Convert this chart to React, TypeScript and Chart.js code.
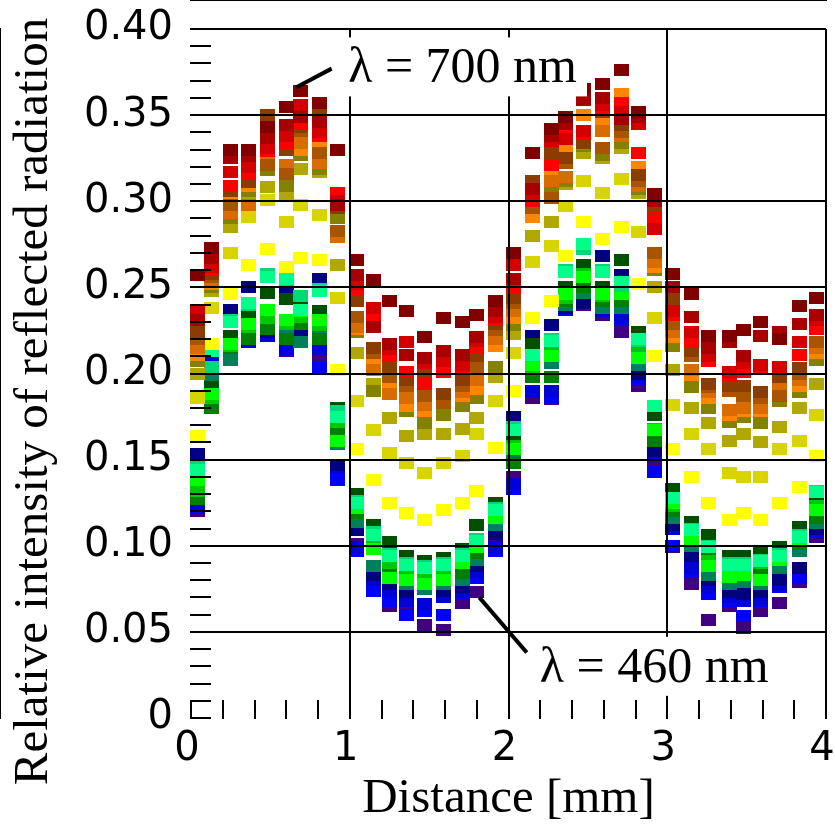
import React, { useEffect, useRef } from 'react';
import { Chart, registerables } from 'chart.js';

Chart.register(...registerables);

// Distance of each measurement column [mm]
const DISTANCE_MM = [0.04, 0.13, 0.25, 0.36, 0.48, 0.60, 0.69, 0.81, 0.92, 1.04, 1.15, 1.25, 1.36, 1.47, 1.59, 1.71, 1.80, 1.92, 2.03, 2.15, 2.27, 2.36, 2.47, 2.59, 2.71, 2.82, 2.92, 3.03, 3.15, 3.26, 3.39, 3.48, 3.59, 3.71, 3.83, 3.94];

const X_TICK_LABELS = ['0', '1', '2', '3', '4'];
const Y_TICK_LABELS = ['0', '0.05', '0.10', '0.15', '0.20', '0.25', '0.30', '0.35', '0.40'];
const X_MINOR_STEP = 0.2;
const Y_MINOR_STEP = 0.01;

// Relative intensity per wavelength (one value per column)
const I700 = [0.257, 0.273, 0.330, 0.330, 0.343, 0.355, 0.364, 0.357, 0.330, 0.266, 0.254, 0.242, 0.236, 0.221, 0.232, 0.230, 0.234, 0.242, 0.270, 0.328, 0.342, 0.349, 0.365, 0.368, 0.376, 0.352, 0.304, 0.258, 0.246, 0.222, 0.222, 0.225, 0.230, 0.220, 0.239, 0.244];
const I690 = [0.231, 0.267, 0.325, 0.326, 0.337, 0.344, 0.349, 0.346, 0.298, 0.257, 0.227, 0.217, 0.211, 0.209, 0.213, 0.211, 0.221, 0.236, 0.255, 0.307, 0.338, 0.345, 0.359, 0.360, 0.348, 0.349, 0.300, 0.250, 0.233, 0.215, 0.218, 0.210, 0.222, 0.224, 0.229, 0.234];
const I680 = [0.237, 0.262, 0.317, 0.320, 0.331, 0.338, 0.356, 0.340, 0.300, 0.252, 0.238, 0.214, 0.218, 0.206, 0.207, 0.205, 0.219, 0.233, 0.263, 0.304, 0.335, 0.336, 0.341, 0.356, 0.352, 0.345, 0.284, 0.236, 0.224, 0.210, 0.201, 0.206, 0.205, 0.204, 0.218, 0.231];
const I670 = [0.235, 0.260, 0.309, 0.316, 0.329, 0.334, 0.345, 0.338, 0.305, 0.249, 0.234, 0.210, 0.201, 0.194, 0.201, 0.202, 0.215, 0.231, 0.250, 0.300, 0.321, 0.342, 0.339, 0.355, 0.357, 0.328, 0.291, 0.234, 0.218, 0.207, 0.199, 0.201, 0.203, 0.202, 0.211, 0.226];
const I660 = [0.224, 0.258, 0.306, 0.311, 0.350, 0.330, 0.343, 0.353, 0.296, 0.242, 0.215, 0.204, 0.196, 0.201, 0.188, 0.196, 0.210, 0.229, 0.244, 0.312, 0.328, 0.325, 0.334, 0.352, 0.344, 0.315, 0.295, 0.243, 0.213, 0.194, 0.193, 0.193, 0.189, 0.198, 0.203, 0.228];
const I650 = [0.220, 0.256, 0.298, 0.314, 0.321, 0.316, 0.341, 0.328, 0.283, 0.233, 0.212, 0.198, 0.193, 0.187, 0.183, 0.193, 0.203, 0.225, 0.241, 0.296, 0.302, 0.322, 0.336, 0.331, 0.340, 0.312, 0.270, 0.229, 0.210, 0.192, 0.190, 0.187, 0.186, 0.187, 0.200, 0.218];
const I640 = [0.215, 0.254, 0.293, 0.298, 0.326, 0.321, 0.334, 0.322, 0.279, 0.227, 0.202, 0.188, 0.186, 0.182, 0.186, 0.189, 0.196, 0.220, 0.236, 0.301, 0.312, 0.314, 0.333, 0.341, 0.338, 0.309, 0.265, 0.224, 0.202, 0.189, 0.179, 0.180, 0.180, 0.193, 0.196, 0.215];
const I630 = [0.211, 0.252, 0.304, 0.309, 0.324, 0.318, 0.330, 0.334, 0.281, 0.226, 0.205, 0.191, 0.181, 0.178, 0.185, 0.187, 0.191, 0.216, 0.232, 0.291, 0.316, 0.329, 0.350, 0.347, 0.362, 0.320, 0.262, 0.221, 0.199, 0.186, 0.176, 0.178, 0.178, 0.190, 0.193, 0.212];
const I620 = [0.207, 0.250, 0.290, 0.306, 0.318, 0.309, 0.327, 0.319, 0.290, 0.224, 0.190, 0.193, 0.178, 0.171, 0.176, 0.181, 0.186, 0.204, 0.228, 0.298, 0.308, 0.312, 0.332, 0.327, 0.334, 0.307, 0.260, 0.216, 0.192, 0.180, 0.172, 0.175, 0.171, 0.184, 0.189, 0.208];
const I610 = [0.200, 0.248, 0.285, 0.304, 0.308, 0.303, 0.319, 0.317, 0.263, 0.212, 0.194, 0.174, 0.164, 0.165, 0.165, 0.168, 0.174, 0.198, 0.223, 0.280, 0.288, 0.310, 0.328, 0.325, 0.331, 0.305, 0.250, 0.202, 0.180, 0.171, 0.161, 0.165, 0.160, 0.169, 0.180, 0.194];
const I600 = [0.186, 0.238, 0.270, 0.291, 0.301, 0.288, 0.298, 0.292, 0.244, 0.184, 0.167, 0.154, 0.148, 0.142, 0.148, 0.152, 0.165, 0.184, 0.212, 0.265, 0.274, 0.297, 0.312, 0.305, 0.313, 0.282, 0.232, 0.182, 0.165, 0.156, 0.142, 0.140, 0.140, 0.156, 0.161, 0.176];
const I590 = [0.164, 0.217, 0.246, 0.263, 0.272, 0.262, 0.267, 0.266, 0.202, 0.156, 0.138, 0.125, 0.119, 0.115, 0.121, 0.125, 0.132, 0.157, 0.190, 0.232, 0.242, 0.268, 0.288, 0.278, 0.285, 0.252, 0.210, 0.156, 0.140, 0.125, 0.115, 0.119, 0.115, 0.125, 0.134, 0.152];
const I580 = [0.144, 0.213, 0.230, 0.241, 0.256, 0.255, 0.237, 0.248, 0.175, 0.125, 0.106, 0.094, 0.089, 0.087, 0.089, 0.094, 0.103, 0.121, 0.167, 0.211, 0.219, 0.259, 0.275, 0.259, 0.253, 0.220, 0.181, 0.128, 0.109, 0.099, 0.089, 0.089, 0.091, 0.094, 0.105, 0.131];
const I570 = [0.146, 0.204, 0.231, 0.240, 0.258, 0.253, 0.245, 0.249, 0.178, 0.126, 0.108, 0.095, 0.090, 0.088, 0.090, 0.095, 0.104, 0.122, 0.169, 0.210, 0.220, 0.260, 0.272, 0.260, 0.251, 0.219, 0.181, 0.128, 0.110, 0.100, 0.090, 0.090, 0.092, 0.095, 0.106, 0.132];
const I560 = [0.138, 0.188, 0.217, 0.229, 0.237, 0.231, 0.236, 0.231, 0.161, 0.122, 0.098, 0.081, 0.080, 0.078, 0.080, 0.090, 0.099, 0.116, 0.156, 0.205, 0.210, 0.246, 0.256, 0.246, 0.246, 0.209, 0.167, 0.125, 0.104, 0.088, 0.082, 0.083, 0.080, 0.092, 0.104, 0.121];
const I550 = [0.132, 0.186, 0.216, 0.227, 0.232, 0.229, 0.233, 0.228, 0.172, 0.123, 0.100, 0.090, 0.086, 0.085, 0.086, 0.092, 0.100, 0.119, 0.158, 0.203, 0.212, 0.244, 0.258, 0.245, 0.248, 0.212, 0.168, 0.123, 0.106, 0.091, 0.088, 0.086, 0.090, 0.094, 0.106, 0.123];
const I540 = [0.127, 0.180, 0.215, 0.220, 0.226, 0.220, 0.229, 0.220, 0.166, 0.119, 0.101, 0.089, 0.084, 0.082, 0.088, 0.084, 0.096, 0.118, 0.148, 0.198, 0.198, 0.242, 0.250, 0.242, 0.242, 0.214, 0.161, 0.120, 0.107, 0.093, 0.085, 0.088, 0.084, 0.092, 0.101, 0.116];
const I530 = [0.134, 0.192, 0.222, 0.233, 0.247, 0.243, 0.239, 0.236, 0.180, 0.130, 0.112, 0.102, 0.094, 0.091, 0.093, 0.098, 0.112, 0.125, 0.162, 0.217, 0.217, 0.250, 0.263, 0.250, 0.266, 0.224, 0.176, 0.133, 0.114, 0.106, 0.094, 0.094, 0.096, 0.099, 0.111, 0.127];
const I520 = [0.140, 0.196, 0.208, 0.224, 0.230, 0.226, 0.218, 0.225, 0.159, 0.114, 0.088, 0.086, 0.078, 0.075, 0.078, 0.080, 0.092, 0.112, 0.150, 0.201, 0.206, 0.240, 0.247, 0.238, 0.238, 0.205, 0.163, 0.116, 0.100, 0.083, 0.078, 0.079, 0.078, 0.087, 0.097, 0.113];
const I510 = [0.153, 0.200, 0.237, 0.250, 0.224, 0.250, 0.223, 0.255, 0.147, 0.109, 0.083, 0.078, 0.073, 0.087, 0.074, 0.076, 0.088, 0.107, 0.175, 0.222, 0.228, 0.238, 0.241, 0.268, 0.257, 0.200, 0.155, 0.112, 0.094, 0.080, 0.073, 0.072, 0.073, 0.080, 0.087, 0.110];
const I490 = [0.123, 0.206, 0.212, 0.218, 0.222, 0.214, 0.220, 0.214, 0.146, 0.099, 0.080, 0.074, 0.068, 0.066, 0.070, 0.073, 0.085, 0.099, 0.136, 0.190, 0.190, 0.238, 0.243, 0.236, 0.233, 0.199, 0.152, 0.110, 0.087, 0.076, 0.070, 0.068, 0.069, 0.077, 0.087, 0.110];
const I480 = [0.122, 0.202, 0.210, 0.218, 0.222, 0.214, 0.223, 0.204, 0.139, 0.097, 0.074, 0.068, 0.060, 0.062, 0.060, 0.072, 0.081, 0.097, 0.133, 0.189, 0.186, 0.237, 0.242, 0.236, 0.231, 0.197, 0.143, 0.100, 0.085, 0.072, 0.068, 0.059, 0.068, 0.076, 0.081, 0.108];
const I460 = [0.120, 0.199, 0.208, 0.219, 0.222, 0.213, 0.218, 0.209, 0.138, 0.101, 0.084, 0.065, 0.064, 0.054, 0.051, 0.067, 0.073, 0.100, 0.140, 0.186, 0.185, 0.237, 0.240, 0.234, 0.224, 0.193, 0.148, 0.099, 0.078, 0.057, 0.065, 0.052, 0.062, 0.067, 0.079, 0.105];

const SERIES = [
  { label: '700 nm', color: '#800000', values: I700 },
  { label: '690 nm', color: '#a80000', values: I690 },
  { label: '680 nm', color: '#d40000', values: I680 },
  { label: '670 nm', color: '#ff0000', values: I670 },
  { label: '660 nm', color: '#8b3c00', values: I660 },
  { label: '650 nm', color: '#a85400', values: I650 },
  { label: '640 nm', color: '#d86c00', values: I640 },
  { label: '630 nm', color: '#ff8400', values: I630 },
  { label: '620 nm', color: '#848000', values: I620 },
  { label: '610 nm', color: '#b0a800', values: I610 },
  { label: '600 nm', color: '#d8d400', values: I600 },
  { label: '590 nm', color: '#ffff00', values: I590 },
  { label: '580 nm', color: '#00ff88', values: I580 },
  { label: '570 nm', color: '#00d878', values: I570 },
  { label: '560 nm', color: '#00ff00', values: I560 },
  { label: '550 nm', color: '#00c800', values: I550 },
  { label: '540 nm', color: '#008000', values: I540 },
  { label: '530 nm', color: '#005000', values: I530 },
  { label: '520 nm', color: '#00805a', values: I520 },
  { label: '510 nm', color: '#000080', values: I510 },
  { label: '490 nm', color: '#0000d8', values: I490 },
  { label: '480 nm', color: '#0000ff', values: I480 },
  { label: '460 nm', color: '#400080', values: I460 },
];

const X_TITLE = 'Distance [mm]';
const Y_TITLE = 'Relative intensity of reflected radiation';

// Call-out labels (anchored in data coordinates)
const CALLOUTS = [
  { text: 'λ = 700 nm', x: 0.99, y: 0.369, fromX: 0.661, fromY: 0.366, toX: 0.886, toY: 0.377 },
  { text: 'λ = 460 nm', x: 2.197, y: 0.021, fromX: 1.816, fromY: 0.070, toX: 2.115, toY: 0.038 },
];

const round = (v: number, d: number) => Math.round(v * Math.pow(10, d)) / Math.pow(10, d);
const X_TICKS: number[] = [];
for (let i = 0; i <= Math.round(4 / X_MINOR_STEP); i++) X_TICKS.push(round(i * X_MINOR_STEP, 2));
const Y_TICKS: number[] = [];
for (let i = 0; i <= Math.round(0.4 / Y_MINOR_STEP); i++) Y_TICKS.push(round(i * Y_MINOR_STEP, 2));

const findLabel = (labels: string[], v: number) => {
  const hit = labels.find((l) => Math.abs(Number(l) - v) < 1e-6);
  return hit === undefined ? '' : hit;
};

function makeMarker(color: string) {
  const c = document.createElement('canvas');
  c.width = 15;
  c.height = 12;
  const g = c.getContext('2d');
  if (g) {
    g.fillStyle = color;
    g.fillRect(0, 0, 15, 12);
  }
  return c;
}

const calloutPlugin = {
  id: 'callouts',
  afterDraw(chart: any) {
    const { ctx, chartArea, scales } = chart;
    const xs = scales.x;
    const ys = scales.y;
    ctx.save();
    // y-axis title
    ctx.fillStyle = '#000';
    ctx.font = '49px "Liberation Serif"';
    ctx.textAlign = 'center';
    ctx.textBaseline = 'middle';
    ctx.translate(chartArea.left - 157, (chartArea.top + chartArea.bottom) / 2 + 28);
    ctx.rotate(-Math.PI / 2);
    ctx.fillText(Y_TITLE, 0, 0);
    ctx.restore();

    ctx.save();
    ctx.font = '50px "Liberation Serif"';
    for (const c of CALLOUTS) {
      const tx = xs.getPixelForValue(c.x);
      const ty = ys.getPixelForValue(c.y);
      const w = ctx.measureText(c.text).width;
      ctx.fillStyle = '#fff';
      ctx.fillRect(tx - 10, ty - 45, w + 20, 59);
      ctx.strokeStyle = '#000';
      ctx.lineWidth = 4;
      ctx.beginPath();
      ctx.moveTo(xs.getPixelForValue(c.fromX), ys.getPixelForValue(c.fromY));
      ctx.lineTo(xs.getPixelForValue(c.toX), ys.getPixelForValue(c.toY));
      ctx.stroke();
      ctx.fillStyle = '#000';
      ctx.textAlign = 'left';
      ctx.textBaseline = 'alphabetic';
      ctx.fillText(c.text, tx, ty);
    }
    ctx.restore();
  },
};

export default function App() {
  const ref = useRef<HTMLCanvasElement | null>(null);

  useEffect(() => {
    const canvas = ref.current;
    if (!canvas) return;
    const datasets = SERIES.map((s) => ({
      label: s.label,
      data: DISTANCE_MM.map((x, i) => ({ x, y: s.values[i] })),
      pointStyle: makeMarker(s.color),
      pointRadius: 8,
      backgroundColor: s.color,
      borderColor: s.color,
      showLine: false,
      clip: false as any,
    }));

    const chart = new Chart(canvas, {
      type: 'scatter',
      data: { datasets },
      plugins: [calloutPlugin],
      options: {
        animation: false,
        responsive: false,
        events: [],
        layout: { padding: { top: 29, right: 3, bottom: 0, left: 0 } },
        plugins: { legend: { display: false }, tooltip: { enabled: false } },
        scales: {
          x: {
            type: 'linear',
            position: 'bottom',
            min: 0,
            max: 4,
            afterBuildTicks: (s: any) => {
              s.ticks = X_TICKS.map((v) => ({ value: v }));
            },
            afterFit: (s: any) => {
              s.height = 106;
              s.paddingLeft = 0;
              s.paddingRight = 0;
            },
            border: { display: true, color: '#000', width: 2, z: 0 },
            grid: {
              z: 1,
              color: (c: any) => {
                const v = c.tick ? c.tick.value : 0;
                return v > 1e-6 && Math.abs(v - Math.round(v)) < 1e-6 ? '#000' : 'rgba(0,0,0,0)';
              },
              lineWidth: 2,
              drawTicks: true,
              tickLength: -18,
              tickColor: '#000',
              tickWidth: 2,
            },
            ticks: {
              autoSkip: false,
              maxRotation: 0,
              minRotation: 0,
              padding: 26,
              labelOffset: -4,
              color: '#000',
              font: { family: 'DejaVu Sans', size: 40 },
              callback: (v: any) => findLabel(X_TICK_LABELS, Number(v)),
            },
            title: {
              display: true,
              text: X_TITLE,
              color: '#000',
              font: { family: 'Liberation Serif', size: 49, lineHeight: 1 },
              padding: { top: 0, bottom: 0 },
            },
          },
          y: {
            type: 'linear',
            position: 'left',
            min: 0,
            max: 0.4,
            afterBuildTicks: (s: any) => {
              s.ticks = Y_TICKS.map((v) => ({ value: v }));
            },
            afterFit: (s: any) => {
              s.width = 191;
              s.paddingTop = 0;
              s.paddingBottom = 0;
            },
            border: { display: true, color: '#000', width: 2, z: 0 },
            grid: {
              z: 1,
              color: (c: any) => {
                const v = c.tick ? c.tick.value : 0;
                return v > 1e-6 && Math.abs(v * 20 - Math.round(v * 20)) < 1e-6 ? '#000' : 'rgba(0,0,0,0)';
              },
              lineWidth: 2,
              drawTicks: true,
              tickLength: -20,
              tickColor: '#000',
              tickWidth: 2,
            },
            ticks: {
              autoSkip: false,
              padding: 38,
              color: '#000',
              font: { family: 'DejaVu Sans', size: 40 },
              callback: (v: any) => findLabel(Y_TICK_LABELS, Number(v)),
            },
            title: { display: false },
          },
        },
      } as any,
    });
    return () => chart.destroy();
  }, []);

  return (
    <div style={{ position: 'fixed', left: 0, top: 0, width: 835, height: 824, background: '#fff' }}>
      <canvas ref={ref} width={835} height={824} style={{ display: 'block', width: 835, height: 824 }} />
    </div>
  );
}
